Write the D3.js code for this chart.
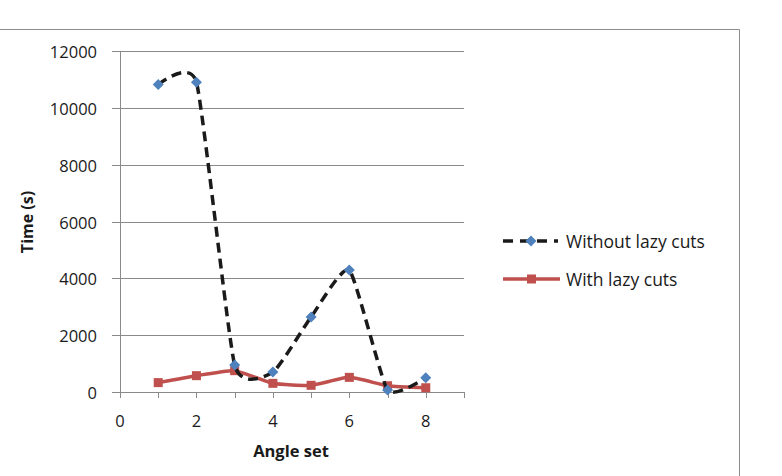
<!DOCTYPE html>
<html><head><meta charset="utf-8">
<script src="https://cdn.jsdelivr.net/npm/d3@7"></script>
<style>body{margin:0;background:#fff}svg{display:block}text{font-family:"Open Sans","Liberation Sans",sans-serif}</style>
</head><body><svg id="c" width="782" height="476"></svg>
<script>
const angleSet = [1,2,3,4,5,6,7,8];
const withoutLazy = [10820, 10900, 950, 700, 2640, 4290, 70, 500];
const withLazy = [330, 575, 750, 305, 235, 515, 220, 150];
const xTicks = [0,2,4,6,8];
const yTicks = [0,2000,4000,6000,8000,10000,12000];
const seriesNames = ["Without lazy cuts","With lazy cuts"];

const svg = d3.select("#c");
svg.append("path").attr("d","M0,29.5H739.5V476").attr("fill","none").attr("stroke","#8c8c8c").attr("stroke-width",1);

const x = d3.scaleLinear().domain([0,9]).range([120,464]);
const y = d3.scaleLinear().domain([0,12000]).range([392,51]);

svg.append("g").selectAll("line").data(yTicks).join("line")
  .attr("x1",112).attr("x2",464).attr("y1",d=>Math.round(y(d))+0.5).attr("y2",d=>Math.round(y(d))+0.5)
  .attr("stroke","#8a8a8a").attr("stroke-width",1);
svg.append("line").attr("x1",120.5).attr("x2",120.5).attr("y1",y(12000)).attr("y2",y(0)+1).attr("stroke","#8a8a8a");
svg.append("g").selectAll("line").data(d3.range(0,10)).join("line")
  .attr("x1",d=>Math.round(x(d))+0.5).attr("x2",d=>Math.round(x(d))+0.5).attr("y1",392).attr("y2",398)
  .attr("stroke","#8a8a8a");
svg.append("g").selectAll("text").data(yTicks).join("text")
  .attr("x",97).attr("y",d=>y(d)+7).attr("text-anchor","end").attr("font-size",16.5).attr("fill","#1a1a1a").text(d=>d);
svg.append("g").selectAll("text").data(xTicks).join("text")
  .attr("x",d=>x(d)).attr("y",427).attr("text-anchor","middle").attr("font-size",16.5).attr("fill","#1a1a1a").text(d=>d);
svg.append("text").attr("x",291).attr("y",457).attr("text-anchor","middle").attr("font-size",16.5).attr("font-weight","bold").attr("fill","#1a1a1a").text("Angle set");
svg.append("text").attr("transform","translate(33,222) rotate(-90)").attr("text-anchor","middle").attr("font-size",16).attr("font-weight","bold").attr("fill","#1a1a1a").text("Time (s)");

const line = d3.line().x(d=>x(d[0])).y(d=>y(d[1])).curve(d3.curveCardinal.tension(0.5));
const d1 = angleSet.map((a,i)=>[a,withoutLazy[i]]);
const d2 = angleSet.map((a,i)=>[a,withLazy[i]]);

svg.append("path").attr("d",line(d2)).attr("fill","none").attr("stroke","#C0504D").attr("stroke-width",3.5);
svg.append("g").selectAll("rect").data(d2).join("rect")
  .attr("x",d=>x(d[0])-4.5).attr("y",d=>y(d[1])-4.5).attr("width",9).attr("height",9).attr("fill","#C0504D");

svg.append("path").attr("d",line(d1)).attr("fill","none").attr("stroke","#1a1a1a").attr("stroke-width",3.5).attr("stroke-dasharray","10,6");
svg.append("g").selectAll("path.m").data(d1).join("path").attr("class","m")
  .attr("d",d=>{const cx=x(d[0]),cy=y(d[1]);return `M${cx},${cy-5.5}L${cx+5.5},${cy}L${cx},${cy+5.5}L${cx-5.5},${cy}Z`;})
  .attr("fill","#4F81BD");

const lg = svg.append("g");
lg.append("line").attr("x1",503).attr("x2",558).attr("y1",241).attr("y2",241).attr("stroke","#1a1a1a").attr("stroke-width",3.5).attr("stroke-dasharray","10,7");
lg.append("path").attr("d","M531,235.5L536.5,241L531,246.5L525.5,241Z").attr("fill","#4F81BD");
lg.append("text").attr("x",566).attr("y",248).attr("font-size",17.5).attr("fill","#1a1a1a").text(seriesNames[0]);
lg.append("line").attr("x1",503).attr("x2",560).attr("y1",279).attr("y2",279).attr("stroke","#C0504D").attr("stroke-width",3.5);
lg.append("rect").attr("x",527).attr("y",274.5).attr("width",9).attr("height",9).attr("fill","#C0504D");
lg.append("text").attr("x",566).attr("y",286).attr("font-size",17.5).attr("fill","#1a1a1a").text(seriesNames[1]);
</script></body></html>
